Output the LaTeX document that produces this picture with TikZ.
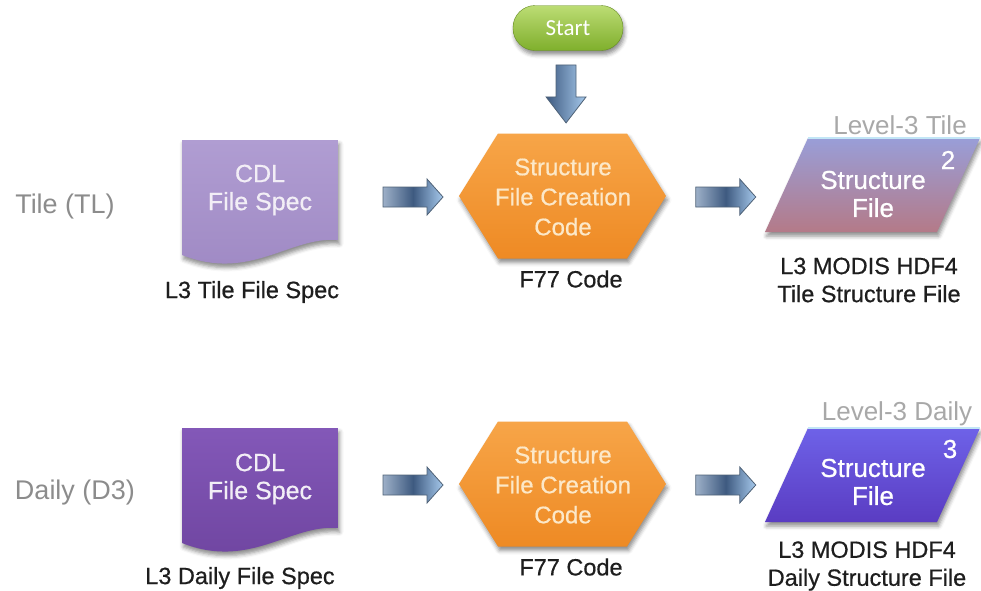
\documentclass[tikz,border=0pt]{standalone}
\usepackage{fontspec}
\setmainfont{Liberation Sans}
\newfontfamily\heavy{Liberation Sans}[FakeBold=0.6]
\newfontfamily\startfont{Carlito}
\usetikzlibrary{calc,shadows.blur}

\definecolor{tdocT}{HTML}{B09DD2}
\definecolor{tdocB}{HTML}{9E88C3}
\definecolor{ddocT}{HTML}{8358B8}
\definecolor{ddocB}{HTML}{6E449F}
\definecolor{hexT}{HTML}{F7A548}
\definecolor{hexB}{HTML}{EE8A24}
\definecolor{hexTxt}{HTML}{FCE8C8}
\definecolor{startT}{HTML}{BCDC74}
\definecolor{startB}{HTML}{7FAF2C}
\definecolor{tparaT}{HTML}{999ED8}
\definecolor{tparaB}{HTML}{B47A88}
\definecolor{dparaT}{HTML}{6E62E8}
\definecolor{dparaB}{HTML}{5A3CC2}
\definecolor{paraLine}{HTML}{C2E6F6}
\definecolor{arrL}{HTML}{9DB0C8}
\definecolor{arrM}{HTML}{3E5A80}
\definecolor{arrR}{HTML}{A6C9EC}
\definecolor{arrO}{HTML}{4F6277}
\definecolor{rowGray}{HTML}{8C8C8C}
\definecolor{lvlGray}{HTML}{A8A8A8}
\definecolor{lblTxt}{HTML}{1E1E1E}
\definecolor{docTxt}{HTML}{F2EEF6}

\tikzset{
  shadowed/.style={blur shadow={shadow xshift=1.5pt, shadow yshift=-4pt, shadow blur radius=4pt, shadow opacity=45}},
  docfillT/.style={shadowed, top color=tdocT, bottom color=tdocB},
  docfillD/.style={shadowed, top color=ddocT, bottom color=ddocB},
  hexfill/.style={shadowed, top color=hexT, bottom color=hexB},
  parafillT/.style={shadowed, top color=tparaT, bottom color=tparaB},
  parafillD/.style={shadowed, top color=dparaT, bottom color=dparaB},
  paraedge/.style={draw=paraLine, line width=2pt},
  doctext/.style={align=center, text=docTxt, font=\heavy\fontsize{25}{28}\selectfont, minimum width=156pt, minimum height=100pt},
  hextext/.style={align=center, text=hexTxt, font=\heavy\fontsize{24}{30}\selectfont, minimum width=208pt, minimum height=125pt},
  paratext/.style={align=center, text=white, font=\heavy\fontsize{26}{28}\selectfont},
  numtext/.style={text=white, font=\heavy\fontsize{26}{28}\selectfont},
  lvltext/.style={text=lvlGray, font=\fontsize{26}{28}\selectfont},
  rowtext/.style={text=rowGray, font=\fontsize{27}{30}\selectfont},
  lbltext/.style={align=center, text=lblTxt, font=\heavy\fontsize{23.5}{28}\selectfont},
  startbox/.style={shadowed, rounded corners=22pt, top color=startT, bottom color=startB,
     draw=startB!80!black, line width=0.4pt,
     minimum width=110pt, minimum height=45pt, text=white, font=\startfont\fontsize{23}{26}\selectfont},
  arrowshade/.style={draw=arrO, line width=0.8pt, left color=arrL, right color=arrR, middle color=arrM},
  downshade/.style={draw=arrO, line width=0.8pt, left color=arrM, right color=arrR}
}

\newcommand\rightblock[1]{%
  \begin{scope}[shift={#1}]
    \path[arrowshade] (-30,-10) -- (14,-10) -- (14,-18) -- (30,0) -- (14,18) -- (14,10) -- (-30,10) -- cycle;
  \end{scope}}

\begin{document}
\begin{tikzpicture}[x=1pt,y=-1pt, every node/.style={inner sep=0pt, outer sep=0pt}]
\useasboundingbox (0,0) rectangle (981,590);
\clip (0,0) rectangle (981,590);

% ---------- shapes, row 1 (Tile) ----------
\path[docfillT] (182,140) -- (338,140) -- (338,240)
   .. controls (290,236) and (250,282) .. (182,255) -- cycle;
\path[hexfill] (459,196) -- (498,133.5) -- (627,133.5) -- (666,196) -- (627,258.5) -- (498,258.5) -- cycle;
\path[parafillT] (808,138) -- (980,138) -- (937,232) -- (765,232) -- cycle;
\path[paraedge] (808,138) -- (980,138);

% ---------- shapes, row 2 (Daily) ----------
\path[docfillD] (182,428) -- (338,428) -- (338,528)
   .. controls (290,524) and (250,570) .. (182,543) -- cycle;
\path[hexfill] (459,484) -- (498,421.5) -- (627,421.5) -- (666,484) -- (627,546.5) -- (498,546.5) -- cycle;
\path[parafillD] (808,428) -- (980,428) -- (937,522) -- (765,522) -- cycle;
\path[paraedge] (808,428) -- (980,428);

% ---------- nodes ----------
\node[startbox] (start) at (568,28) {Start};

\node[rowtext] (rowT) at (65,207) {Tile (TL)};
\node[rowtext] (rowD) at (75,493) {Daily (D3)};

\node[doctext] (tdoc) at (260,190) {CDL\\File Spec};
\node[doctext] (ddoc) at (260,479) {CDL\\File Spec};
\node[lbltext] (tdoclbl) at (252,292) {L3 Tile File Spec};
\node[lbltext] (ddoclbl) at (240,578) {L3 Daily File Spec};

\node[hextext] (thex) at (563,197) {Structure\\File Creation\\Code};
\node[hextext] (dhex) at (563,485) {Structure\\File Creation\\Code};
\node[lbltext] (thexlbl) at (571,279) {F77 Code};
\node[lbltext] (dhexlbl) at (571,567) {F77 Code};

\node[paratext] (tpara) at (873,194) {Structure\\File};
\node[paratext] (dpara) at (873,482) {Structure\\File};
\node[numtext] (tnum) at (948,160) {2};
\node[numtext] (dnum) at (950,449) {3};
\node[lvltext] (tlvl) at (900,125) {Level-3 Tile};
\node[lvltext] (dlvl) at (897,414) {Level-3 Daily};
\node[lbltext] (tparalbl) at (869,280) {L3 MODIS HDF4\\Tile Structure File};
\node[lbltext] (dparalbl) at (867,566) {L3 MODIS HDF4\\Daily Structure File};

% ---------- connectors (block arrows) ----------
\coordinate (a1) at ($(tdoc)!0.505!(thex)$);
\coordinate (a2) at ($(thex)!0.525!(tpara)$);
\coordinate (a3) at ($(ddoc)!0.505!(dhex)$);
\coordinate (a4) at ($(dhex)!0.525!(dpara)$);
\rightblock{(a1 |- thex)}
\rightblock{(a2 |- thex)}
\rightblock{(a3 |- dhex)}
\rightblock{(a4 |- dhex)}

\coordinate (a0) at ($(start)!0.39!(thex)$);
\begin{scope}[shift={(a0)}]
  \path[downshade] (-10,-29) -- (10,-29) -- (10,3) -- (20,3) -- (0,29) -- (-20,3) -- (-10,3) -- cycle;
\end{scope}

\end{tikzpicture}
\end{document}
